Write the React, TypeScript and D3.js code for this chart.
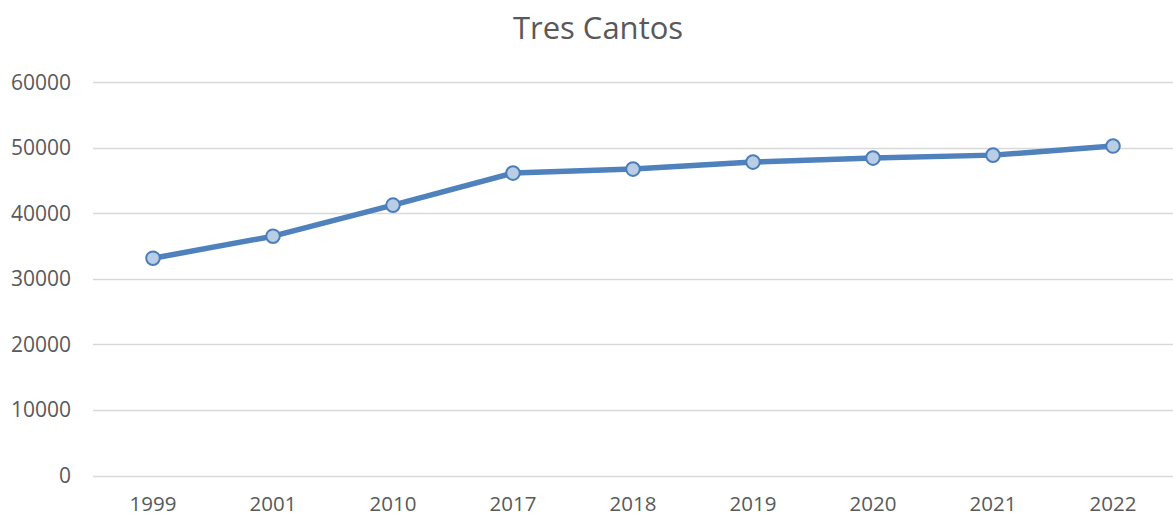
import React, { useEffect, useRef } from 'react';
import * as d3 from 'd3';

const years = ['1999', '2001', '2010', '2017', '2018', '2019', '2020', '2021', '2022'];
const population = [33130, 36490, 41220, 46110, 46720, 47790, 48400, 48850, 50230];
const yTicks = [0, 10000, 20000, 30000, 40000, 50000, 60000];

const width = 1173;
const height = 517;
const margin = { top: 82, right: 0, bottom: 42, left: 93 };

const App = () => {
  const ref = useRef<SVGSVGElement | null>(null);

  useEffect(() => {
    drawChart();
  }, []);

  function drawChart() {
    const svg = d3.select(ref.current);
    svg.selectAll('*').remove();

    const x = d3
      .scaleBand()
      .domain(years)
      .range([margin.left, width - margin.right]);

    const y = d3
      .scaleLinear()
      .domain([0, 60000])
      .range([height - margin.bottom + 0.5, margin.top]);

    svg
      .append('rect')
      .attr('width', width)
      .attr('height', height)
      .attr('fill', '#ffffff');

    // title
    svg
      .append('text')
      .attr('x', 598)
      .attr('y', 39)
      .attr('text-anchor', 'middle')
      .style('font-family', 'Open Sans, sans-serif')
      .style('font-size', '31px')
      .style('fill', '#595959')
      .text('Tres Cantos');

    // gridlines
    svg
      .append('g')
      .selectAll('line')
      .data(yTicks)
      .enter()
      .append('line')
      .attr('x1', margin.left)
      .attr('x2', width - margin.right)
      .attr('y1', (d) => Math.round(y(d)) + 0.5)
      .attr('y2', (d) => Math.round(y(d)) + 0.5)
      .style('stroke', '#d9d9d9')
      .style('stroke-width', 1.5);

    // y labels
    svg
      .append('g')
      .selectAll('text')
      .data(yTicks)
      .enter()
      .append('text')
      .attr('x', 71)
      .attr('y', (d) => y(d))
      .attr('dy', '0.36em')
      .attr('text-anchor', 'end')
      .style('font-family', 'Open Sans, sans-serif')
      .style('font-size', '21px')
      .style('fill', '#595959')
      .text((d) => d);

    // x labels
    svg
      .append('g')
      .selectAll('text')
      .data(years)
      .enter()
      .append('text')
      .attr('x', (d) => (x(d) as number) + x.bandwidth() / 2)
      .attr('y', 511)
      .attr('text-anchor', 'middle')
      .style('font-family', 'Open Sans, sans-serif')
      .style('font-size', '20.5px')
      .style('fill', '#595959')
      .text((d) => d);

    const points = years.map((yr, i) => ({ yr, v: population[i] }));

    const line = d3
      .line<{ yr: string; v: number }>()
      .x((d) => (x(d.yr) as number) + x.bandwidth() / 2)
      .y((d) => y(d.v));

    svg
      .append('path')
      .datum(points)
      .attr('d', line)
      .style('fill', 'none')
      .style('stroke', '#4f81bd')
      .style('stroke-width', 5.5)
      .style('stroke-linejoin', 'round')
      .style('stroke-linecap', 'round');

    svg
      .append('g')
      .selectAll('circle')
      .data(points)
      .enter()
      .append('circle')
      .attr('cx', (d) => (x(d.yr) as number) + x.bandwidth() / 2)
      .attr('cy', (d) => y(d.v))
      .attr('r', 6.8)
      .style('fill', '#b9cde5')
      .style('stroke', '#4a7ebb')
      .style('stroke-width', 2);
  }

  return (
    <div style={{ position: 'absolute', left: 0, top: 0 }}>
      <svg ref={ref} width={width} height={height} />
    </div>
  );
};

export default App;
